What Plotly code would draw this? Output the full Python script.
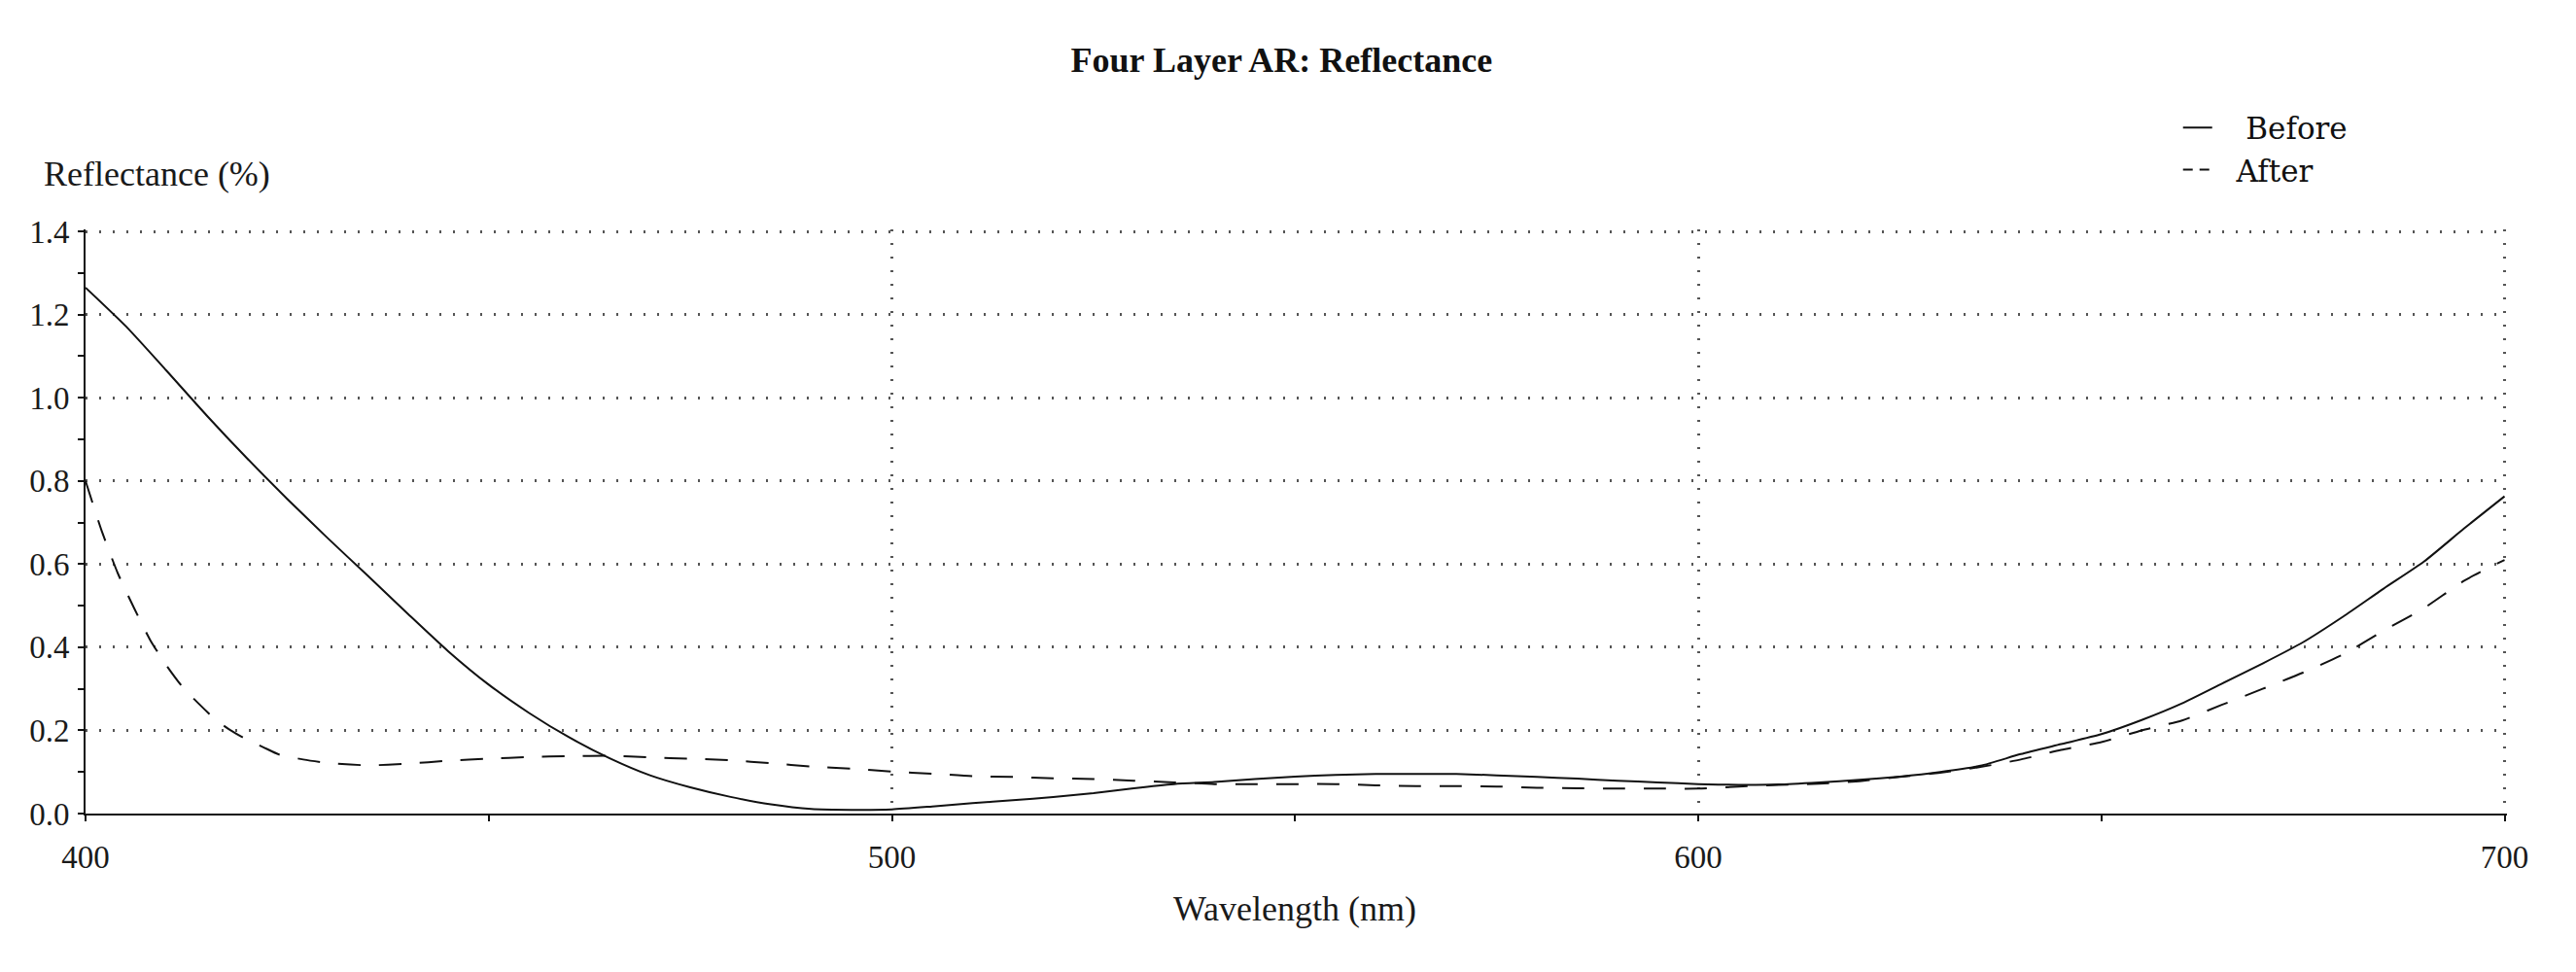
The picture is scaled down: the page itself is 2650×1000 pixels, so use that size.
import plotly.graph_objects as go

# ---- data ----
before_wl = [400, 405, 410, 415, 420, 425, 430, 435, 440, 445, 450, 455, 460, 465,
             470, 475, 480, 485, 490, 495, 500, 505, 510, 515, 520, 525, 530, 535,
             540, 545, 550, 555, 560, 565, 570, 575, 580, 585, 590, 595, 600, 605,
             610, 615, 620, 625, 630, 635, 640, 645, 650, 655, 660, 665, 670, 675,
             680, 685, 690, 695, 700]
before_r = [1.265, 1.172, 1.066, 0.958, 0.855, 0.757, 0.663, 0.572, 0.48, 0.39, 0.31, 0.242,
            0.183, 0.133, 0.092, 0.063, 0.040, 0.022, 0.011, 0.009, 0.010, 0.017, 0.025,
            0.032, 0.040, 0.049, 0.061, 0.071, 0.076, 0.083, 0.089, 0.093, 0.095, 0.095,
            0.095, 0.092, 0.088, 0.084, 0.079, 0.075, 0.071, 0.069, 0.070, 0.075, 0.081,
            0.089, 0.100, 0.115, 0.143, 0.167, 0.191, 0.225, 0.265, 0.313, 0.361, 0.412,
            0.474, 0.541, 0.606, 0.686, 0.763]

after_wl = [400, 402, 404, 406, 408, 410, 412, 414, 416, 418, 420, 422, 424, 427, 430,
            435, 440, 445, 450, 455, 460, 465, 470, 475, 480, 485, 490, 495, 500, 505,
            510, 515, 520, 525, 530, 535, 540, 545, 550, 555, 560, 565, 570, 575, 580,
            585, 590, 595, 600, 605, 610, 615, 620, 625, 630, 635, 640, 645, 650, 655,
            660, 665, 670, 675, 680, 685, 690, 695, 700]
after_r = [0.80, 0.68, 0.578, 0.495, 0.418, 0.357, 0.305, 0.265, 0.228, 0.200, 0.178,
           0.160, 0.142, 0.130, 0.122, 0.116, 0.120, 0.127, 0.132, 0.136, 0.138, 0.139,
           0.135, 0.132, 0.128, 0.121, 0.113, 0.108, 0.101, 0.096, 0.090, 0.088, 0.085,
           0.083, 0.079, 0.075, 0.071, 0.071, 0.071, 0.071, 0.068, 0.066, 0.066, 0.065,
           0.062, 0.061, 0.060, 0.060, 0.060, 0.065, 0.069, 0.072, 0.078, 0.088, 0.098,
           0.112, 0.130, 0.153, 0.172, 0.200, 0.224, 0.262, 0.300, 0.339, 0.383, 0.440,
           0.494, 0.560, 0.610]

x_ticks = [400, 500, 600, 700]
y_ticks = [0.0, 0.2, 0.4, 0.6, 0.8, 1.0, 1.2, 1.4]

title_text = "Four Layer AR: Reflectance"
x_title = "Wavelength (nm)"
y_title = "Reflectance (%)"
series_names = ["Before", "After"]

FONT = "Liberation Serif"
LEG_FONT = "DejaVu Serif"
NB = "\u00a0"

fig = go.Figure()
fig.add_trace(go.Scatter(x=before_wl, y=before_r, mode="lines",
                         name=NB * 3 + series_names[0],
                         line=dict(color="#111111", width=2, shape="spline", smoothing=0.6)))
fig.add_trace(go.Scatter(x=after_wl, y=after_r, mode="lines", name=series_names[1],
                         showlegend=False,
                         line=dict(color="#111111", width=2, dash="23px,19px",
                                   shape="spline", smoothing=0.6)))
# legend entry for the dashed series (short "- -" sample as in the reference)
fig.add_trace(go.Scatter(x=[None], y=[None], mode="lines",
                         name=NB * 2 + series_names[1],
                         line=dict(color="#111111", width=2, dash="10px,7px")))

grid = dict(showgrid=True, gridcolor="#555555", gridwidth=2.5, griddash="2px,12px")

fig.update_layout(
    width=2650, height=1000,
    margin=dict(l=88, r=71, t=236, b=163),
    paper_bgcolor="white", plot_bgcolor="white",
    font=dict(family=FONT, size=33, color="#1a1a1a"),
    title=dict(text=f"<b>{title_text}</b>", x=0.4975, xanchor="center",
               y=0.939, yanchor="middle", font=dict(family=FONT, size=36, color="#111")),
    showlegend=True,
    legend=dict(x=(2239 - 88) / 2489, xanchor="left", y=(837 - 107) / 599, yanchor="top",
                font=dict(family=LEG_FONT, size=31, color="#111"), bgcolor="rgba(0,0,0,0)",
                itemwidth=30, tracegroupgap=0),
    xaxis=dict(range=[400, 700.3], tickvals=x_ticks, ticktext=[str(v) for v in x_ticks],
               showline=True, linecolor="#111", linewidth=2,
               ticks="outside", ticklen=6, tickwidth=2, tickcolor="#111",
               minor=dict(dtick=50, ticks="outside", ticklen=6, tickwidth=2,
                          tickcolor="#111", showgrid=False),
               zeroline=False, ticklabelstandoff=8, **grid),
    yaxis=dict(range=[0, 1.405], tickvals=y_ticks, ticktext=[f"{v:.1f}" for v in y_ticks],
               showline=True, linecolor="#111", linewidth=2,
               ticks="outside", ticklen=6, tickwidth=2, tickcolor="#111",
               minor=dict(dtick=0.1, ticks="outside", ticklen=6, tickwidth=2,
                          tickcolor="#111", showgrid=False),
               zeroline=False, ticklabelstandoff=2, **grid),
    xaxis2=dict(overlaying="x", matches="x", anchor="y", side="bottom",
                range=[400, 700.3], tickvals=x_ticks, showticklabels=False,
                ticks="inside", ticklen=6, tickwidth=2, tickcolor="#111",
                minor=dict(dtick=50, ticks="inside", ticklen=6, tickwidth=2,
                           tickcolor="#111", showgrid=False),
                showgrid=False, showline=False, zeroline=False),
    yaxis2=dict(overlaying="y", matches="y", anchor="x", side="left",
                range=[0, 1.405], tickvals=y_ticks, showticklabels=False,
                ticks="inside", ticklen=6, tickwidth=2, tickcolor="#111",
                minor=dict(dtick=0.1, ticks="inside", ticklen=6, tickwidth=2,
                           tickcolor="#111", showgrid=False),
                showgrid=False, showline=False, zeroline=False),
    annotations=[
        dict(text=y_title, xref="paper", yref="paper", x=(43 - 88) / 2489, y=(837 - 181) / 599,
             xanchor="left", yanchor="middle", showarrow=False,
             font=dict(family=FONT, size=36, color="#1a1a1a")),
        dict(text=x_title, xref="paper", yref="paper", x=(1331 - 88) / 2489, y=(837 - 935) / 599,
             xanchor="center", yanchor="middle", showarrow=False,
             font=dict(family=FONT, size=36, color="#1a1a1a")),
    ],
)

fig.write_html("out.html")
